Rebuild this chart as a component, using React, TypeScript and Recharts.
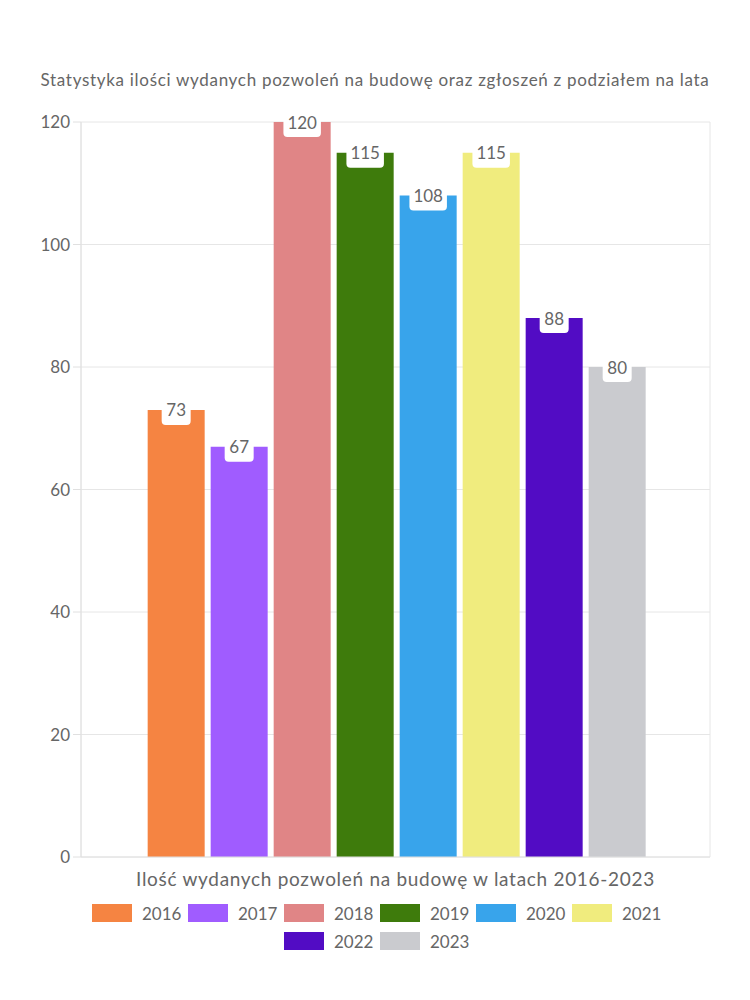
import React from 'react';
import { BarChart, Bar, XAxis, YAxis, CartesianGrid, Legend } from 'recharts';

const categories = ['Ilość wydanych pozwoleń na budowę w latach 2016-2023'];
const years = ['2016', '2017', '2018', '2019', '2020', '2021', '2022', '2023'];
const values = [73, 67, 120, 115, 108, 115, 88, 80];
const colors = ['#F58442', '#A05CFF', '#E08586', '#3E7B0C', '#38A4EB', '#F0EC7E', '#520CC4', '#CACBCF'];
const yTicks = [0, 20, 40, 60, 80, 100, 120];
const title = 'Statystyka ilości wydanych pozwoleń na budowę oraz zgłoszeń z podziałem na lata';

const data = categories.map((c) => {
  const row: Record<string, string | number> = { name: c };
  years.forEach((y, i) => {
    row[y] = values[i];
  });
  return row;
});

const FONT = 'Lato, "Noto Sans", sans-serif';
const TEXT = '#666';

const ValueLabel = (props: any) => {
  const { x, y, width, value } = props;
  const s = String(value);
  const w = s.length * 8.5 + 12;
  const cx = x + width / 2;
  return (
    <g>
      <rect x={cx - w / 2} y={y - 15} width={w} height={30} rx={4} ry={4} fill="#fff" />
      <text x={cx} y={y} textAnchor="middle" dominantBaseline="central" fill={TEXT} fontSize={17} fontFamily={FONT}>
        {s}
      </text>
    </g>
  );
};

const LegendContent = () => (
  <div
    style={{
      position: 'relative',
      left: 20,
      display: 'flex',
      flexWrap: 'wrap',
      justifyContent: 'center',
      width: 580,
      margin: '0 auto',
    }}
  >
    {years.map((y, i) => (
      <div key={y} style={{ display: 'flex', alignItems: 'center', width: 86, marginRight: 5, marginLeft: 5, height: 28 }}>
        <div style={{ width: 40, height: 18, background: colors[i], marginRight: 10, flexShrink: 0 }} />
        <span style={{ fontSize: 17, color: TEXT, fontFamily: FONT }}>{y}</span>
      </div>
    ))}
  </div>
);

export default function App() {
  return (
    <div style={{ position: 'absolute', left: 0, top: 0, width: 750, height: 1000, background: '#fff' }}>
      <div
        style={{
          position: 'absolute',
          top: 69,
          left: 0,
          width: 750,
          textAlign: 'center',
          fontFamily: FONT,
          fontSize: 17,
          letterSpacing: 0.7,
          color: TEXT,
          lineHeight: '22px',
        }}
      >
        {title}
      </div>
      <BarChart
        width={750}
        height={1000}
        data={data}
        margin={{ top: 122, right: 40, bottom: 45, left: 0 }}
        barGap={6}
        barCategoryGap="10.6%"
      >
        <CartesianGrid
          stroke="#e6e6e6"
          verticalCoordinatesGenerator={({ offset }: any) => [offset.left, offset.left + offset.width]}
        />
        <XAxis
          dataKey="name"
          tick={false}
          tickLine={false}
          axisLine={{ stroke: '#e0e0e0' }}
          height={42}
          label={{
            value: categories[0],
            position: 'insideBottom',
            offset: 13,
            fill: TEXT,
            fontSize: 19,
            letterSpacing: 0.7,
            fontFamily: FONT,
          }}
        />
        <YAxis
          width={81}
          domain={[0, 120]}
          ticks={yTicks}
          tickSize={8}
          tickMargin={3}
          axisLine={{ stroke: '#e0e0e0' }}
          tickLine={{ stroke: '#e0e0e0' }}
          tick={{ fill: TEXT, fontSize: 17, fontFamily: FONT }}
        />
        <Legend verticalAlign="bottom" align="center" content={<LegendContent />} />
        {years.map((y, i) => (
          <Bar key={y} dataKey={y} fill={colors[i]} isAnimationActive={false} label={<ValueLabel />} />
        ))}
      </BarChart>
    </div>
  );
}
